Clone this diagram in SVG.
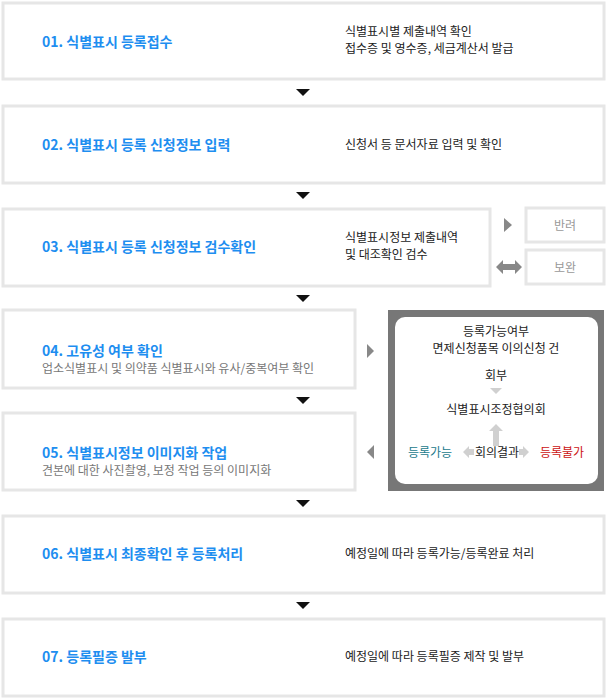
<svg xmlns="http://www.w3.org/2000/svg" width="608" height="699" viewBox="0 0 608 699">
<style>
.box{fill:#fff;stroke:#e6e6e6;stroke-width:3}
text{font-family:"Noto Sans CJK KR","Noto Sans",sans-serif}
.t{font-size:14px;font-weight:bold;fill:#1e8ef0}
.s{font-size:12px;fill:#777}
.d{font-size:12px;fill:#222}
.g{font-size:12px;fill:#999;text-anchor:middle}
.c{font-size:12px;fill:#222;text-anchor:middle}
.ar{fill:#111}
.ga{fill:#888}
.la{fill:#d0d0d0}
</style>
<rect width="608" height="699" fill="#fff"/>
<g id="n1"><rect class="box" x="3" y="3" width="601" height="76"/><text class="t" x="42" y="47">01.  식별표시 등록접수</text><text class="d" x="345" y="36">식별표시별 제출내역 확인</text><text class="d" x="345" y="53">접수증 및 영수증, 세금계산서 발급</text></g>
<g id="n2"><rect class="box" x="3" y="106" width="601" height="77"/><text class="t" x="42" y="150">02. 식별표시 등록 신청정보 입력</text><text class="d" x="345" y="149">신청서 등 문서자료 입력 및 확인</text></g>
<g id="n3"><rect class="box" x="3" y="209" width="487" height="77"/><text class="t" x="42" y="252">03. 식별표시 등록 신청정보 검수확인</text><text class="d" x="345" y="242">식별표시정보 제출내역</text><text class="d" x="345" y="259">및 대조확인 검수</text></g>
<g id="n3a"><rect class="box" x="526" y="208" width="78" height="34"/><text class="g" x="565" y="230">반려</text></g>
<g id="n3b"><rect class="box" x="526" y="250" width="78" height="34"/><text class="g" x="565" y="272">보완</text></g>
<g id="n4"><rect class="box" x="3" y="310" width="352" height="78"/><text class="t" x="42" y="356">04. 고유성 여부 확인</text><text class="s" x="42" y="373">업소식별표시 및 의약품 식별표시와 유사/중복여부 확인</text></g>
<g id="n5"><rect class="box" x="3" y="413" width="352" height="77"/><text class="t" x="42" y="458">05. 식별표시정보 이미지화 작업</text><text class="s" x="42" y="475">견본에 대한 사진촬영, 보정 작업 등의 이미지화</text></g>
<g id="n6"><rect class="box" x="3" y="516" width="601" height="77"/><text class="t" x="42" y="559">06. 식별표시 최종확인 후 등록처리</text><text class="d" x="345" y="558">예정일에 따라 등록가능/등록완료 처리</text></g>
<g id="n7"><rect class="box" x="3" y="619" width="601" height="77"/><text class="t" x="42" y="662">07.  등록필증 발부</text><text class="d" x="345" y="661">예정일에 따라 등록필증 제작 및 발부</text></g>
<g id="council">
<rect x="388" y="310" width="216" height="181" fill="#777"/>
<rect x="395" y="317" width="203" height="167" rx="10" fill="#fff"/>
<text class="c" x="496" y="336">등록가능여부</text>
<text class="c" x="496" y="353">면제신청품목 이의신청 건</text>
<text class="c" x="496" y="380">회부</text>
<text class="c" x="496" y="414">식별표시조정협의회</text>
<text font-size="12" fill="#1a7a8c" x="408" y="457">등록가능</text>
<text class="c" x="497" y="457">회의결과</text>
<text font-size="12" fill="#cc1111" x="540" y="457">등록불가</text>
</g>
<g id="connectors">
<polygon class="ar" points="296,89 310,89 303,96"/>
<polygon class="ar" points="296,192 310,192 303,199"/>
<polygon class="ar" points="296,295 310,295 303,302"/>
<polygon class="ar" points="296,397 310,397 303,404"/>
<polygon class="ar" points="296,500 310,500 303,507"/>
<polygon class="ar" points="296,602 310,602 303,609"/>
<polygon class="ga" points="504,218 512,225 504,232"/>
<polygon class="ga" points="496,267 503,260 503,264 515,264 515,260 522,267 515,274 515,270 503,270 503,274"/>
<polygon class="ga" points="367,344 374,351 367,358"/>
<polygon class="ga" points="374,445 367,452 374,459"/>
<polygon class="la" points="490,388 502,388 496,394"/>
<polygon class="la" points="496,424 503,431 499,431 499,446 493,446 493,431 489,431"/>
<polygon class="la" points="463,452 469,446 469,449 474,449 474,455 469,455 469,458"/>
<polygon class="la" points="529,452 523,446 523,449 519,449 519,455 523,455 523,458"/>
</g>
</svg>
